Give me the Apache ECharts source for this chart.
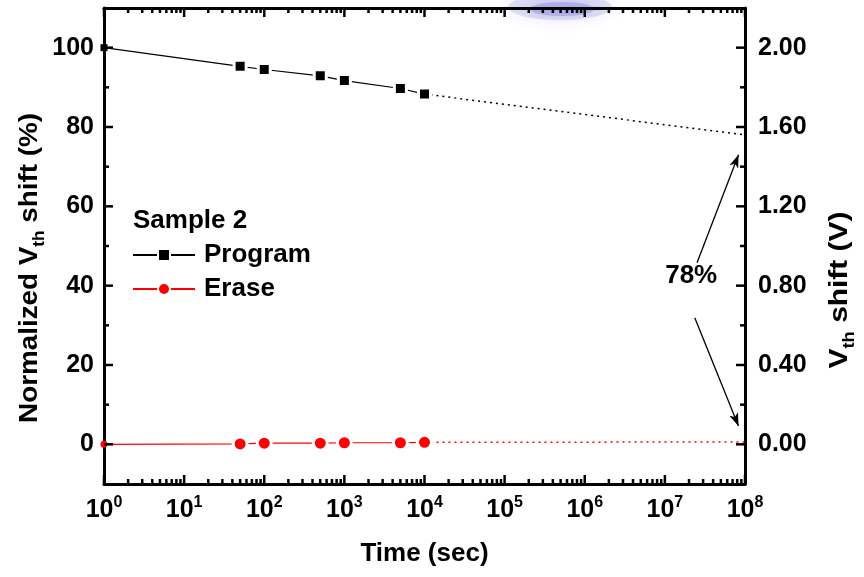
<!DOCTYPE html>
<html>
<head>
<meta charset="utf-8">
<script src="https://cdn.jsdelivr.net/npm/echarts@6/dist/echarts.min.js"></script>
<style>
  html, body { margin: 0; padding: 0; background: #fff; }
  #chart { width: 864px; height: 577px; }
</style>
</head>
<body>
<div id="chart"></div>
<script>
const FONT = '"Liberation Sans", Arial, Helvetica, sans-serif';

// Retention measurement times (s)
const times = [1, 50, 100, 500, 1000, 5000, 10000];
// Normalized Vth shift (%)
const programShift = [100, 95.3, 94.5, 92.9, 91.7, 89.7, 88.3];
const eraseShift = [0, 0.1, 0.3, 0.3, 0.4, 0.4, 0.5];
// Extrapolation out to 10^8 s
const extrapTimes = [10000, 1e8];
const programExtrap = [88.3, 78];
const eraseExtrap = [0.5, 0.6];

// Axis tick values
const xDecades = [1, 10, 100, 1e3, 1e4, 1e5, 1e6, 1e7, 1e8];
const xMinorFactors = [2, 3, 4, 5, 6, 7, 8, 9];
const yMajorTicks = [0, 20, 40, 60, 80, 100];
const yMinorTicks = [10, 30, 50, 70, 90];

// Window annotation (data coordinates)
const windowText = '78%';
const windowTextAt = [2.13e7, 42.4];
const arrowUp = [[2.52e7, 45.8], [8.3e7, 73.0]];
const arrowDown = [[2.36e7, 31.9], [8.3e7, 4.6]];

const Y_MIN = -10, Y_MAX = 110;
const X_MIN = 1, X_MAX = 1e8;

const pairs = (xs, ys) => xs.map((x, i) => [x, ys[i]]);

// the first point sits on the left axis: draw it small and without the white gap ring
const markerData = (xs, ys) => xs.map((x, i) => i === 0
  ? { value: [x, ys[i]], symbolSize: 7, itemStyle: { borderWidth: 0 } }
  : [x, ys[i]]);

const tickData = [];
xDecades.forEach(v => tickData.push([v, 0, 0, 1]));
xDecades.slice(0, -1).forEach(d => xMinorFactors.forEach(f => tickData.push([d * f, 0, 0, 0])));
yMajorTicks.forEach(v => tickData.push([X_MIN, v, 1, 1]));
yMinorTicks.forEach(v => tickData.push([X_MIN, v, 1, 0]));

// inward ticks on all four sides of the frame
function renderTick(params, api) {
  const kind = api.value(2);
  const len = api.value(3) ? 9 : 5;
  const style = { stroke: '#000', lineWidth: 2.5 };
  if (kind === 0) {
    const b = api.coord([api.value(0), Y_MIN]);
    const t = api.coord([api.value(0), Y_MAX]);
    return { type: 'group', children: [
      { type: 'line', shape: { x1: b[0], y1: b[1], x2: b[0], y2: b[1] - len }, style },
      { type: 'line', shape: { x1: t[0], y1: t[1], x2: t[0], y2: t[1] + len }, style }
    ]};
  }
  const l = api.coord([X_MIN, api.value(1)]);
  const r = api.coord([X_MAX, api.value(1)]);
  return { type: 'group', children: [
    { type: 'line', shape: { x1: l[0], y1: l[1], x2: l[0] + len, y2: l[1] }, style },
    { type: 'line', shape: { x1: r[0], y1: r[1], x2: r[0] - len, y2: r[1] }, style }
  ]};
}

const axisLine = { show: true, onZero: false, lineStyle: { color: '#000', width: 3 } };
const tickLabel = { color: '#000', fontFamily: FONT, fontWeight: 'bold', fontSize: 25 };

const titleRich = {
  a: { fontFamily: FONT, fontWeight: 'bold', fontSize: 26, lineHeight: 36, color: '#000' },
  s: { fontFamily: FONT, fontWeight: 'bold', fontSize: 16, lineHeight: 18, color: '#000', verticalAlign: 'bottom' }
};

const chart = echarts.init(document.getElementById('chart'), null, { renderer: 'canvas' });

chart.setOption({
  backgroundColor: '#fff',
  animation: false,
  title: {
    text: 'Sample 2',
    left: 133, top: 206, padding: 0,
    textStyle: { fontFamily: FONT, fontWeight: 'bold', fontSize: 26, lineHeight: 30, color: '#000' }
  },
  legend: {
    data: ['Program', 'Erase'],
    orient: 'vertical',
    left: 132, top: 240,
    padding: 0,
    itemWidth: 62, itemHeight: 15, itemGap: 4,
    textStyle: { fontFamily: FONT, fontWeight: 'bold', fontSize: 26, lineHeight: 30, color: '#000', padding: [0, 0, 0, 4] },
    selectedMode: false
  },
  grid: { left: 104, right: 119, top: 8, bottom: 93, containLabel: false },
  xAxis: [{
    type: 'log', logBase: 10, min: X_MIN, max: X_MAX, position: 'bottom',
    axisLine, axisTick: { show: false }, splitLine: { show: false }, minorTick: { show: false },
    axisLabel: {
      margin: 11,
      formatter: v => '{b|10}{s|' + Math.round(Math.log10(v)) + '}',
      rich: {
        b: { fontFamily: FONT, fontWeight: 'bold', fontSize: 25, lineHeight: 30, color: '#000' },
        s: { fontFamily: FONT, fontWeight: 'bold', fontSize: 16, lineHeight: 14, color: '#000', verticalAlign: 'top' }
      }
    },
    name: 'Time (sec)', nameLocation: 'middle', nameGap: 57,
    nameTextStyle: { fontFamily: FONT, fontWeight: 'bold', fontSize: 26, color: '#000' }
  }, {
    type: 'log', logBase: 10, min: X_MIN, max: X_MAX, position: 'top',
    axisLine, axisTick: { show: false }, splitLine: { show: false }, axisLabel: { show: false }
  }],
  yAxis: [{
    type: 'value', min: Y_MIN, max: Y_MAX, interval: 10, position: 'left',
    axisLine, axisTick: { show: false }, splitLine: { show: false },
    axisLabel: Object.assign({}, tickLabel, {
      margin: 10,
      formatter: v => (v >= 0 && v <= 100 && v % 20 === 0) ? String(v) : ''
    })
  }, {
    type: 'value', min: -0.2, max: 2.2, interval: 0.2, position: 'right',
    axisLine, axisTick: { show: false }, splitLine: { show: false },
    axisLabel: Object.assign({}, tickLabel, {
      margin: 13,
      formatter: v => {
        const k = v / 0.4;
        return (v > -1e-6 && v < 2 + 1e-6 && Math.abs(k - Math.round(k)) < 1e-6) ? v.toFixed(2) : '';
      }
    })
  }],
  graphic: [{
    type: 'text', x: 30, y: 268, rotation: Math.PI / 2, scaleX: 1.07,
    style: { text: '{a|Normalized V}{s|th}{a| shift (%)}', rich: titleRich, align: 'center', verticalAlign: 'middle' }
  }, {
    type: 'text', x: 840, y: 290, rotation: Math.PI / 2, scaleX: 1.15,
    style: { text: '{a|V}{s|th}{a| shift (V)}', rich: titleRich, align: 'center', verticalAlign: 'middle' }
  }, {
    // faint lavender seal printed over the top edge
    type: 'group', z: 100, silent: true,
    children: [{
      type: 'ellipse',
      shape: { cx: 560, cy: 7, rx: 52, ry: 13 },
      style: { fill: 'rgba(175,175,235,0.35)', shadowBlur: 14, shadowColor: 'rgba(160,160,230,0.6)' }
    }, {
      type: 'ellipse',
      shape: { cx: 562, cy: 9, rx: 32, ry: 7 },
      style: { fill: 'rgba(120,120,215,0.35)', shadowBlur: 8, shadowColor: 'rgba(120,120,215,0.5)' }
    }]
  }],
  series: [{
    name: 'Program', type: 'line', data: markerData(times, programShift),
    symbol: 'rect', symbolSize: 12, clip: false, z: 4,
    itemStyle: { color: '#000', borderColor: '#fff', borderWidth: 3 },
    lineStyle: { color: '#000', width: 1.2 }
  }, {
    name: 'Erase', type: 'line', data: markerData(times, eraseShift),
    symbol: 'circle', symbolSize: 14, clip: false, z: 4,
    itemStyle: { color: '#ff0000', borderColor: '#fff', borderWidth: 3 },
    lineStyle: { color: '#ff0000', width: 1.2 }
  }, {
    name: 'Program extrapolation', type: 'line', data: pairs(extrapTimes, programExtrap),
    symbol: 'none', clip: false, z: 3,
    lineStyle: { color: '#000', width: 1.5, type: [2, 4] },
    markLine: {
      silent: true, symbol: ['none', 'arrow'], symbolSize: [7, 13],
      label: { show: false },
      lineStyle: { color: '#000', width: 1.3, type: 'solid' },
      data: [
        [{ coord: arrowUp[0] }, { coord: arrowUp[1] }],
        [{ coord: arrowDown[0] }, { coord: arrowDown[1] }]
      ]
    },
    markPoint: {
      silent: true, symbol: 'circle', symbolSize: 0,
      label: { show: true, position: 'inside', formatter: windowText, fontFamily: FONT, fontWeight: 'bold', fontSize: 26, color: '#000' },
      data: [{ coord: windowTextAt }]
    }
  }, {
    name: 'Erase extrapolation', type: 'line', data: pairs(extrapTimes, eraseExtrap),
    symbol: 'none', clip: false, z: 3,
    lineStyle: { color: '#ff0000', width: 1.5, type: [2, 4] }
  }, {
    name: 'ticks', type: 'custom', renderItem: renderTick, data: tickData,
    encode: { x: 0, y: 1 }, silent: true, clip: false, z: 5
  }]
});
</script>
</body>
</html>
